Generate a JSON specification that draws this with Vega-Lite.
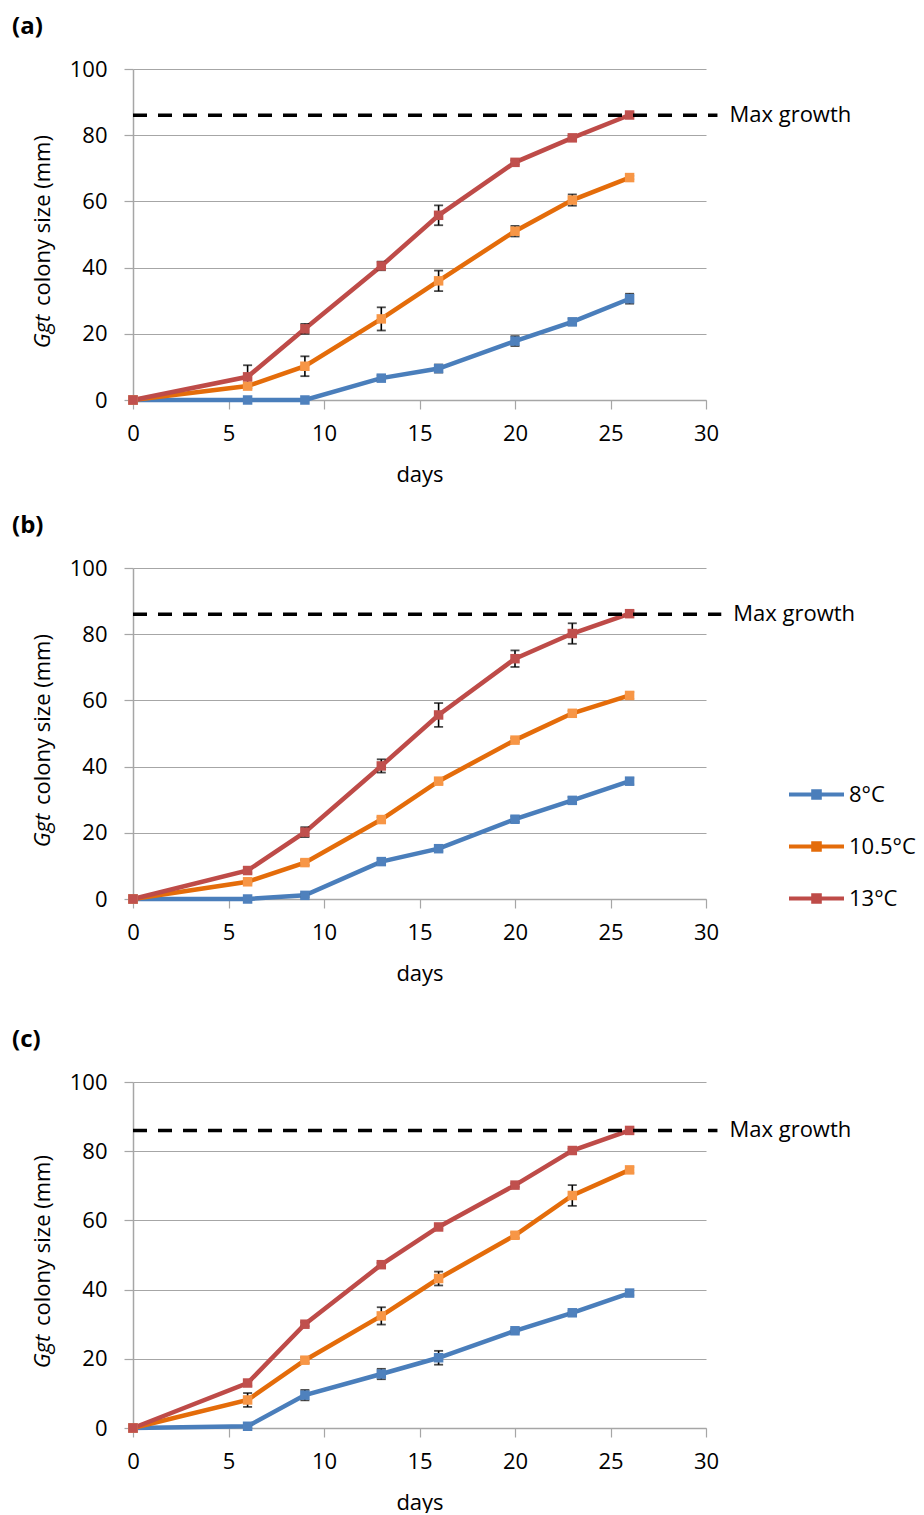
{
  "$schema": "https://vega.github.io/schema/vega-lite/v6.json",
  "background": "white",
  "padding": {"left": 12, "top": 15, "right": 0, "bottom": 0},
  "data": {
    "values": [
      {"p": "a", "temp": "8°C", "day": 0, "size": 0, "err": 0},
      {"p": "a", "temp": "8°C", "day": 6, "size": 0, "err": 0},
      {"p": "a", "temp": "8°C", "day": 9, "size": 0, "err": 0},
      {"p": "a", "temp": "8°C", "day": 13, "size": 6.6, "err": 0.8},
      {"p": "a", "temp": "8°C", "day": 16, "size": 9.5, "err": 1.2},
      {"p": "a", "temp": "8°C", "day": 20, "size": 17.8, "err": 1.5},
      {"p": "a", "temp": "8°C", "day": 23, "size": 23.6, "err": 1.0},
      {"p": "a", "temp": "8°C", "day": 26, "size": 30.6, "err": 1.5},
      {"p": "a", "temp": "10.5°C", "day": 0, "size": 0, "err": 0},
      {"p": "a", "temp": "10.5°C", "day": 6, "size": 4.2, "err": 0.6},
      {"p": "a", "temp": "10.5°C", "day": 9, "size": 10.2, "err": 3},
      {"p": "a", "temp": "10.5°C", "day": 13, "size": 24.5, "err": 3.5},
      {"p": "a", "temp": "10.5°C", "day": 16, "size": 36, "err": 3.1},
      {"p": "a", "temp": "10.5°C", "day": 20, "size": 51, "err": 1.6},
      {"p": "a", "temp": "10.5°C", "day": 23, "size": 60.4, "err": 1.7},
      {"p": "a", "temp": "10.5°C", "day": 26, "size": 67.2, "err": 0.5},
      {"p": "a", "temp": "13°C", "day": 0, "size": 0, "err": 0},
      {"p": "a", "temp": "13°C", "day": 6, "size": 7, "err": 3.5},
      {"p": "a", "temp": "13°C", "day": 9, "size": 21.5, "err": 1.5},
      {"p": "a", "temp": "13°C", "day": 13, "size": 40.5, "err": 1.3},
      {"p": "a", "temp": "13°C", "day": 16, "size": 55.8, "err": 3},
      {"p": "a", "temp": "13°C", "day": 20, "size": 71.8, "err": 0.6},
      {"p": "a", "temp": "13°C", "day": 23, "size": 79.2, "err": 0.6},
      {"p": "a", "temp": "13°C", "day": 26, "size": 86.1, "err": 0.6},
      {"p": "b", "temp": "8°C", "day": 0, "size": 0, "err": 0},
      {"p": "b", "temp": "8°C", "day": 6, "size": 0, "err": 0},
      {"p": "b", "temp": "8°C", "day": 9, "size": 1.1, "err": 0.5},
      {"p": "b", "temp": "8°C", "day": 13, "size": 11.3, "err": 0.8},
      {"p": "b", "temp": "8°C", "day": 16, "size": 15.2, "err": 0.8},
      {"p": "b", "temp": "8°C", "day": 20, "size": 24.1, "err": 0.8},
      {"p": "b", "temp": "8°C", "day": 23, "size": 29.8, "err": 1},
      {"p": "b", "temp": "8°C", "day": 26, "size": 35.6, "err": 1},
      {"p": "b", "temp": "10.5°C", "day": 0, "size": 0, "err": 0},
      {"p": "b", "temp": "10.5°C", "day": 6, "size": 5.2, "err": 0.5},
      {"p": "b", "temp": "10.5°C", "day": 9, "size": 11, "err": 0.8},
      {"p": "b", "temp": "10.5°C", "day": 13, "size": 24, "err": 0.7},
      {"p": "b", "temp": "10.5°C", "day": 16, "size": 35.6, "err": 0.8},
      {"p": "b", "temp": "10.5°C", "day": 20, "size": 48, "err": 0.6},
      {"p": "b", "temp": "10.5°C", "day": 23, "size": 56.1, "err": 0.7},
      {"p": "b", "temp": "10.5°C", "day": 26, "size": 61.5, "err": 1},
      {"p": "b", "temp": "13°C", "day": 0, "size": 0, "err": 0},
      {"p": "b", "temp": "13°C", "day": 6, "size": 8.6, "err": 0.8},
      {"p": "b", "temp": "13°C", "day": 9, "size": 20.2, "err": 1.5},
      {"p": "b", "temp": "13°C", "day": 13, "size": 40.2, "err": 2},
      {"p": "b", "temp": "13°C", "day": 16, "size": 55.6, "err": 3.6},
      {"p": "b", "temp": "13°C", "day": 20, "size": 72.6, "err": 2.5},
      {"p": "b", "temp": "13°C", "day": 23, "size": 80.2, "err": 3.1},
      {"p": "b", "temp": "13°C", "day": 26, "size": 86.2, "err": 0.8},
      {"p": "c", "temp": "8°C", "day": 0, "size": 0, "err": 0},
      {"p": "c", "temp": "8°C", "day": 6, "size": 0.5, "err": 0.5},
      {"p": "c", "temp": "8°C", "day": 9, "size": 9.5, "err": 1.5},
      {"p": "c", "temp": "8°C", "day": 13, "size": 15.6, "err": 1.5},
      {"p": "c", "temp": "8°C", "day": 16, "size": 20.3, "err": 2},
      {"p": "c", "temp": "8°C", "day": 20, "size": 28.1, "err": 0.5},
      {"p": "c", "temp": "8°C", "day": 23, "size": 33.3, "err": 0.5},
      {"p": "c", "temp": "8°C", "day": 26, "size": 39, "err": 0.6},
      {"p": "c", "temp": "10.5°C", "day": 0, "size": 0, "err": 0},
      {"p": "c", "temp": "10.5°C", "day": 6, "size": 8.1, "err": 2},
      {"p": "c", "temp": "10.5°C", "day": 9, "size": 19.6, "err": 0.8},
      {"p": "c", "temp": "10.5°C", "day": 13, "size": 32.4, "err": 2.5},
      {"p": "c", "temp": "10.5°C", "day": 16, "size": 43.2, "err": 2},
      {"p": "c", "temp": "10.5°C", "day": 20, "size": 55.7, "err": 0.8},
      {"p": "c", "temp": "10.5°C", "day": 23, "size": 67.2, "err": 3},
      {"p": "c", "temp": "10.5°C", "day": 26, "size": 74.6, "err": 0.8},
      {"p": "c", "temp": "13°C", "day": 0, "size": 0, "err": 0},
      {"p": "c", "temp": "13°C", "day": 6, "size": 13, "err": 0.8},
      {"p": "c", "temp": "13°C", "day": 9, "size": 30, "err": 0.6},
      {"p": "c", "temp": "13°C", "day": 13, "size": 47.2, "err": 0.5},
      {"p": "c", "temp": "13°C", "day": 16, "size": 58.1, "err": 0.5},
      {"p": "c", "temp": "13°C", "day": 20, "size": 70.2, "err": 0.5},
      {"p": "c", "temp": "13°C", "day": 23, "size": 80.2, "err": 0.5},
      {"p": "c", "temp": "13°C", "day": 26, "size": 86, "err": 0.6}
    ]
  },
  "spacing": 29,
  "resolve": {"scale": {"color": "independent", "fill": "independent"}, "legend": {"color": "independent", "fill": "independent"}},
  "vconcat": [
    {
      "width": 573,
      "height": 331,
      "title": {"text": "(a)"},
      "resolve": {"axis": {"y": "independent"}},
      "layer": [
        {
          "transform": [{"filter": "datum.p == 'a'"}],
          "mark": {"type": "line", "strokeWidth": 4.5},
          "encoding": {
            "x": {"field": "day", "type": "quantitative", "title": "days", "scale": {"domain": [0, 30], "nice": false}},
            "y": {"field": "size", "type": "quantitative", "scale": {"domain": [0, 100], "nice": false},
                  "axis": {"title": "colony size (mm)", "orient": "left", "titleX": -84, "titleY": 151, "titleBaseline": "alphabetic", "titleAlign": "center"}},
            "color": {"field": "temp", "type": "nominal", "scale": {"domain": ["8°C", "10.5°C", "13°C"], "range": ["#4A7EBB", "#E46C0A", "#BE4B48"]}, "legend": null}
          }
        },
        {
          "transform": [{"filter": "datum.p == 'a' && datum.err > 0"}],
          "mark": {"type": "errorbar", "ticks": {"size": 9, "thickness": 1.8, "color": "#000000"}, "rule": {"strokeWidth": 1.6, "color": "#000000"}},
          "encoding": {
            "x": {"field": "day", "type": "quantitative", "title": "days", "scale": {"domain": [0, 30], "nice": false}},
            "y": {"field": "size", "type": "quantitative", "scale": {"domain": [0, 100], "nice": false}, "axis": null},
            "yError": {"field": "err"}
          }
        },
        {
          "transform": [{"filter": "datum.p == 'a'"}],
          "mark": {"type": "point", "shape": "square", "filled": true, "size": 90, "opacity": 1},
          "encoding": {
            "x": {"field": "day", "type": "quantitative", "title": "days", "scale": {"domain": [0, 30], "nice": false}},
            "y": {"field": "size", "type": "quantitative", "scale": {"domain": [0, 100], "nice": false}, "axis": null},
            "fill": {"field": "temp", "type": "nominal", "scale": {"domain": ["8°C", "10.5°C", "13°C"], "range": ["#4F81BD", "#F79646", "#C0504D"]}, "legend": null}
          }
        },
        {
          "data": {"values": [{"level": 86, "start": 0, "end": 30.6}]},
          "mark": {"type": "rule", "strokeWidth": 3.5, "strokeDash": [14, 11], "color": "#000000"},
          "encoding": {
            "x": {"field": "start", "type": "quantitative", "title": "days", "scale": {"domain": [0, 30], "nice": false}},
            "x2": {"field": "end"},
            "y": {"field": "level", "type": "quantitative", "scale": {"domain": [0, 100], "nice": false},
                  "axis": {"title": "Ggt", "titleFontStyle": "italic", "orient": "left", "labels": false, "ticks": false, "domain": false, "grid": false, "titleX": -84, "titleY": 262, "titleBaseline": "alphabetic", "titleAlign": "center"}}
          }
        },
        {
          "data": {"values": [{"level": 86, "end": 30.6, "label": "Max growth"}]},
          "mark": {"type": "text", "align": "left", "baseline": "middle", "dx": 12, "fontSize": 22, "font": "Open Sans", "color": "#000000"},
          "encoding": {
            "x": {"field": "end", "type": "quantitative", "title": "days", "scale": {"domain": [0, 30], "nice": false}},
            "y": {"field": "level", "type": "quantitative", "scale": {"domain": [0, 100], "nice": false}, "axis": null},
            "text": {"field": "label"}
          }
        }
      ]
    },
    {
      "spacing": 44,
      "resolve": {"scale": {"color": "independent", "fill": "independent"}, "legend": {"color": "independent", "fill": "independent"}},
      "vconcat": [
        {
          "width": 573,
          "height": 331,
          "title": {"text": "(b)"},
          "resolve": {"axis": {"y": "independent"}},
          "layer": [
            {
              "transform": [{"filter": "datum.p == 'b'"}],
              "mark": {"type": "line", "strokeWidth": 4.5},
              "encoding": {
                "x": {"field": "day", "type": "quantitative", "title": "days", "scale": {"domain": [0, 30], "nice": false}},
                "y": {"field": "size", "type": "quantitative", "scale": {"domain": [0, 100], "nice": false},
                      "axis": {"title": "colony size (mm)", "orient": "left", "titleX": -84, "titleY": 151, "titleBaseline": "alphabetic", "titleAlign": "center"}},
                "color": {"field": "temp", "type": "nominal", "scale": {"domain": ["8°C", "10.5°C", "13°C"], "range": ["#4A7EBB", "#E46C0A", "#BE4B48"]},
                          "legend": {"title": null, "orient": "none", "legendX": 654, "legendY": 197, "symbolType": "M-1,0H1M-0.12,-0.12H0.12V0.12H-0.12Z", "symbolSize": 3025, "symbolStrokeWidth": 4, "labelFontSize": 22, "labelFont": "Open Sans", "labelColor": "#000000", "labelOffset": 3, "rowPadding": 11}}
              }
            },
            {
              "transform": [{"filter": "datum.p == 'b' && datum.err > 0"}],
              "mark": {"type": "errorbar", "ticks": {"size": 9, "thickness": 1.8, "color": "#000000"}, "rule": {"strokeWidth": 1.6, "color": "#000000"}},
              "encoding": {
                "x": {"field": "day", "type": "quantitative", "title": "days", "scale": {"domain": [0, 30], "nice": false}},
                "y": {"field": "size", "type": "quantitative", "scale": {"domain": [0, 100], "nice": false}, "axis": null},
                "yError": {"field": "err"}
              }
            },
            {
              "transform": [{"filter": "datum.p == 'b'"}],
              "mark": {"type": "point", "shape": "square", "filled": true, "size": 90, "opacity": 1},
              "encoding": {
                "x": {"field": "day", "type": "quantitative", "title": "days", "scale": {"domain": [0, 30], "nice": false}},
                "y": {"field": "size", "type": "quantitative", "scale": {"domain": [0, 100], "nice": false}, "axis": null},
                "fill": {"field": "temp", "type": "nominal", "scale": {"domain": ["8°C", "10.5°C", "13°C"], "range": ["#4F81BD", "#F79646", "#C0504D"]}, "legend": null}
              }
            },
            {
              "data": {"values": [{"level": 86, "start": 0, "end": 30.8}]},
              "mark": {"type": "rule", "strokeWidth": 3.5, "strokeDash": [14, 11], "color": "#000000"},
              "encoding": {
                "x": {"field": "start", "type": "quantitative", "title": "days", "scale": {"domain": [0, 30], "nice": false}},
                "x2": {"field": "end"},
                "y": {"field": "level", "type": "quantitative", "scale": {"domain": [0, 100], "nice": false},
                      "axis": {"title": "Ggt", "titleFontStyle": "italic", "orient": "left", "labels": false, "ticks": false, "domain": false, "grid": false, "titleX": -84, "titleY": 262, "titleBaseline": "alphabetic", "titleAlign": "center"}}
              }
            },
            {
              "data": {"values": [{"level": 86, "end": 30.8, "label": "Max growth"}]},
              "mark": {"type": "text", "align": "left", "baseline": "middle", "dx": 12, "fontSize": 22, "font": "Open Sans", "color": "#000000"},
              "encoding": {
                "x": {"field": "end", "type": "quantitative", "title": "days", "scale": {"domain": [0, 30], "nice": false}},
                "y": {"field": "level", "type": "quantitative", "scale": {"domain": [0, 100], "nice": false}, "axis": null},
                "text": {"field": "label"}
              }
            }
          ]
        },
        {
          "width": 573,
          "height": 346,
          "title": {"text": "(c)"},
          "resolve": {"axis": {"y": "independent"}},
          "layer": [
            {
              "transform": [{"filter": "datum.p == 'c'"}],
              "mark": {"type": "line", "strokeWidth": 4.5},
              "encoding": {
                "x": {"field": "day", "type": "quantitative", "title": "days", "scale": {"domain": [0, 30], "nice": false}},
                "y": {"field": "size", "type": "quantitative", "scale": {"domain": [0, 100], "nice": false},
                      "axis": {"title": "colony size (mm)", "orient": "left", "titleX": -84, "titleY": 158, "titleBaseline": "alphabetic", "titleAlign": "center"}},
                "color": {"field": "temp", "type": "nominal", "scale": {"domain": ["8°C", "10.5°C", "13°C"], "range": ["#4A7EBB", "#E46C0A", "#BE4B48"]}, "legend": null}
              }
            },
            {
              "transform": [{"filter": "datum.p == 'c' && datum.err > 0"}],
              "mark": {"type": "errorbar", "ticks": {"size": 9, "thickness": 1.8, "color": "#000000"}, "rule": {"strokeWidth": 1.6, "color": "#000000"}},
              "encoding": {
                "x": {"field": "day", "type": "quantitative", "title": "days", "scale": {"domain": [0, 30], "nice": false}},
                "y": {"field": "size", "type": "quantitative", "scale": {"domain": [0, 100], "nice": false}, "axis": null},
                "yError": {"field": "err"}
              }
            },
            {
              "transform": [{"filter": "datum.p == 'c'"}],
              "mark": {"type": "point", "shape": "square", "filled": true, "size": 90, "opacity": 1},
              "encoding": {
                "x": {"field": "day", "type": "quantitative", "title": "days", "scale": {"domain": [0, 30], "nice": false}},
                "y": {"field": "size", "type": "quantitative", "scale": {"domain": [0, 100], "nice": false}, "axis": null},
                "fill": {"field": "temp", "type": "nominal", "scale": {"domain": ["8°C", "10.5°C", "13°C"], "range": ["#4F81BD", "#F79646", "#C0504D"]}, "legend": null}
              }
            },
            {
              "data": {"values": [{"level": 86, "start": 0, "end": 30.6}]},
              "mark": {"type": "rule", "strokeWidth": 3.5, "strokeDash": [14, 11], "color": "#000000"},
              "encoding": {
                "x": {"field": "start", "type": "quantitative", "title": "days", "scale": {"domain": [0, 30], "nice": false}},
                "x2": {"field": "end"},
                "y": {"field": "level", "type": "quantitative", "scale": {"domain": [0, 100], "nice": false},
                      "axis": {"title": "Ggt", "titleFontStyle": "italic", "orient": "left", "labels": false, "ticks": false, "domain": false, "grid": false, "titleX": -84, "titleY": 269, "titleBaseline": "alphabetic", "titleAlign": "center"}}
              }
            },
            {
              "data": {"values": [{"level": 86, "end": 30.6, "label": "Max growth"}]},
              "mark": {"type": "text", "align": "left", "baseline": "middle", "dx": 12, "fontSize": 22, "font": "Open Sans", "color": "#000000"},
              "encoding": {
                "x": {"field": "end", "type": "quantitative", "title": "days", "scale": {"domain": [0, 30], "nice": false}},
                "y": {"field": "level", "type": "quantitative", "scale": {"domain": [0, 100], "nice": false}, "axis": null},
                "text": {"field": "label"}
              }
            }
          ]
        }
      ]
    }
  ],
  "config": {
    "font": "Open Sans",
    "view": {"stroke": null},
    "title": {"anchor": "start", "frame": "bounds", "fontSize": 24, "fontWeight": "bold", "font": "Open Sans", "color": "#000000", "offset": 19, "dx": -19},
    "axis": {
      "labelFont": "Open Sans", "labelFontSize": 22, "labelColor": "#000000",
      "titleFont": "Open Sans", "titleFontSize": 22, "titleFontWeight": "normal", "titleColor": "#000000",
      "gridColor": "#A6A6A6", "gridWidth": 1.2,
      "domainColor": "#A6A6A6", "domainWidth": 1.5,
      "tickColor": "#A6A6A6", "tickSize": 9, "tickWidth": 1.2
    },
    "axisX": {"grid": false, "tickCount": 7, "labelPadding": 14, "titlePadding": 20, "labelFlush": false},
    "axisY": {"grid": true, "tickCount": 6, "labelPadding": 17}
  }
}
